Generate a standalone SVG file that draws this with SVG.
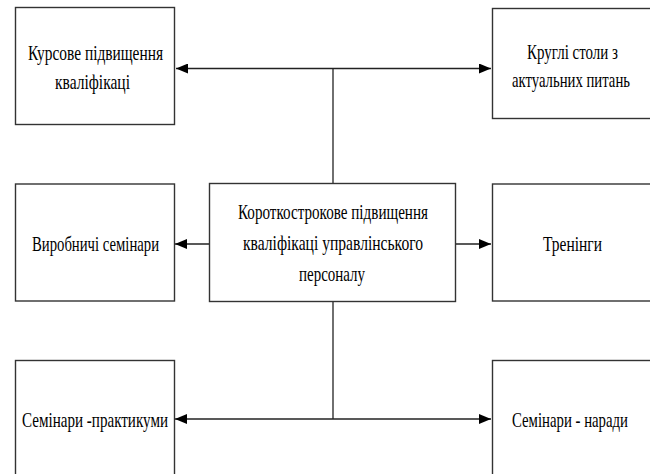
<svg xmlns="http://www.w3.org/2000/svg" width="650" height="474" viewBox="0 0 650 474">
  <style>
    .box { fill: #ffffff; stroke: #333333; stroke-width: 1.4; }
    .ln { fill: none; stroke: #222222; stroke-width: 1.3; }
    .t { font-family: "Liberation Serif", "Times New Roman", serif; font-size: 21px; fill: #000000; text-anchor: start; }
  </style>
  <defs>
    <marker id="ah" viewBox="0 0 12 10" refX="12" refY="5" markerWidth="12" markerHeight="10" markerUnits="userSpaceOnUse" orient="auto-start-reverse">
      <path d="M0,0 L12,5 L0,10 Z" fill="#000000"/>
    </marker>
  </defs>
  <rect x="0" y="0" width="650" height="474" fill="#ffffff"/>

  <g id="connectors">
    <line class="ln" x1="176" y1="68.5" x2="491" y2="68.5" marker-start="url(#ah)" marker-end="url(#ah)"/>
    <line class="ln" x1="333" y1="68.5" x2="333" y2="183"/>
    <line class="ln" x1="209" y1="244" x2="175" y2="244" marker-end="url(#ah)"/>
    <line class="ln" x1="456" y1="244" x2="491" y2="244" marker-end="url(#ah)"/>
    <line class="ln" x1="333" y1="302" x2="333" y2="419"/>
    <line class="ln" x1="175" y1="419" x2="491" y2="419" marker-start="url(#ah)" marker-end="url(#ah)"/>
  </g>

  <g id="n-kursove">
    <rect class="box" x="15.5" y="7.5" width="159" height="117"/>
    <text class="t" x="28" y="60" textLength="135" lengthAdjust="spacingAndGlyphs">Курсове підвищення</text>
    <text class="t" x="55" y="89" textLength="75" lengthAdjust="spacingAndGlyphs">кваліфікаці</text>
  </g>

  <g id="n-kruhli">
    <rect class="box" x="492.5" y="8.5" width="160" height="110"/>
    <text class="t" x="527" y="59" textLength="91" lengthAdjust="spacingAndGlyphs">Круглі столи з</text>
    <text class="t" x="512" y="87" textLength="118" lengthAdjust="spacingAndGlyphs">актуальних питань</text>
  </g>

  <g id="n-vyrobnychi">
    <rect class="box" x="15.5" y="184" width="159" height="117"/>
    <text class="t" x="32" y="251" textLength="127" lengthAdjust="spacingAndGlyphs">Виробничі семінари</text>
  </g>

  <g id="n-center">
    <rect class="box" x="209.5" y="183.5" width="246" height="118"/>
    <text class="t" x="238" y="219" textLength="190" lengthAdjust="spacingAndGlyphs">Короткострокове підвищення</text>
    <text class="t" x="243" y="250" textLength="180" lengthAdjust="spacingAndGlyphs">кваліфікаці управлінського</text>
    <text class="t" x="299" y="281" textLength="66" lengthAdjust="spacingAndGlyphs">персоналу</text>
  </g>

  <g id="n-treninhy">
    <rect class="box" x="492.5" y="184" width="160" height="117"/>
    <text class="t" x="543" y="251" textLength="59" lengthAdjust="spacingAndGlyphs">Тренінги</text>
  </g>

  <g id="n-praktykumy">
    <rect class="box" x="15.5" y="360.5" width="159" height="120"/>
    <text class="t" x="22" y="427" textLength="146" lengthAdjust="spacingAndGlyphs">Семінари -практикуми</text>
  </g>

  <g id="n-narady">
    <rect class="box" x="492.5" y="360.5" width="160" height="120"/>
    <text class="t" x="512" y="427" textLength="116" lengthAdjust="spacingAndGlyphs">Семінари - наради</text>
  </g>
</svg>
